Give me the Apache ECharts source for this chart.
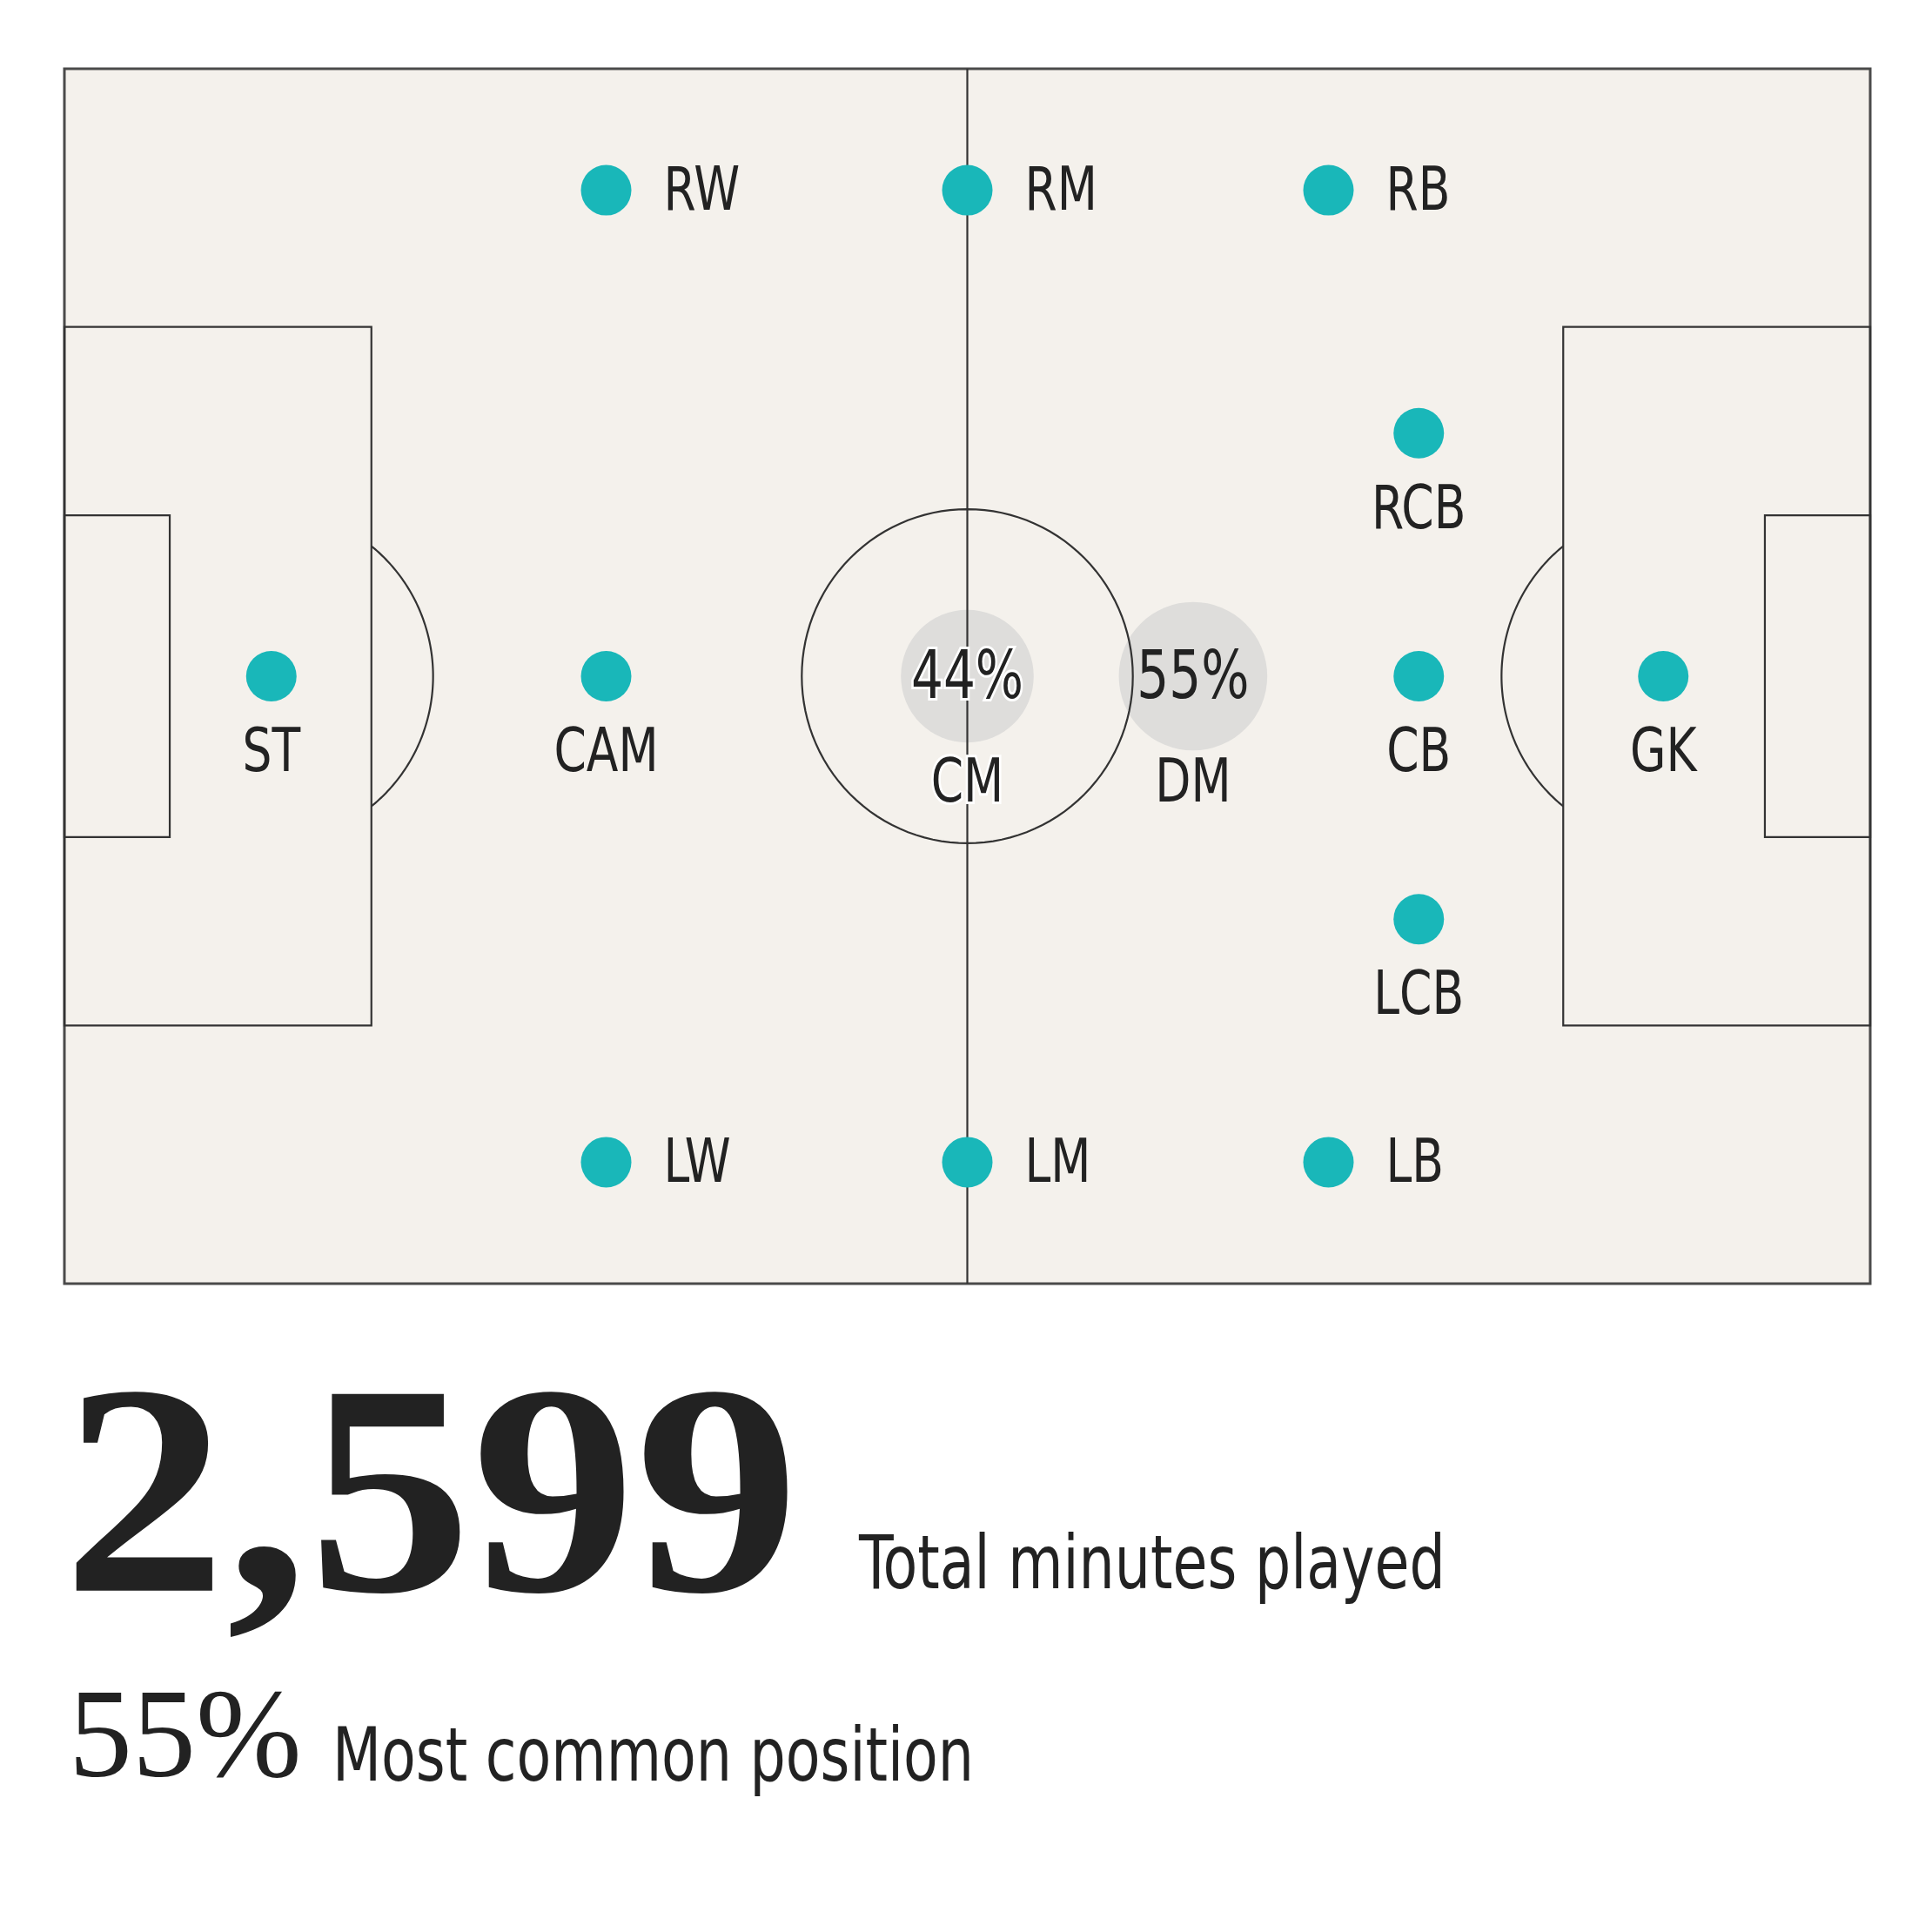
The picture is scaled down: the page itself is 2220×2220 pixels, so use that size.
<!DOCTYPE html>
<html>
<head>
<meta charset="utf-8">
<script src="https://cdn.jsdelivr.net/npm/echarts@6/dist/echarts.min.js"></script>
<style>
html, body { margin: 0; padding: 0; background: #fff; }
#chart { width: 2220px; height: 2220px; }
</style>
</head>
<body>
<div id="chart"></div>
<script>
// positions on a 120 x 80 pitch, y counted from the top touchline
var positions = ['RW', 'RM', 'RB', 'RCB', 'ST', 'CAM', 'CM', 'DM', 'CB', 'GK', 'LCB', 'LW', 'LM', 'LB'];
var posX = [36, 60, 84, 90, 13.75, 36, 60, 75, 90, 106.25, 90, 36, 60, 84];
var posY = [8, 8, 8, 24, 40, 40, 40, 40, 40, 40, 56, 72, 72, 72];

// share of minutes, only where shown
var shareNames = ['CM', 'DM'];
var shareValues = [44, 55];

// summary numbers
var totalMinutes = 2599;
var topShare = 55;
var totalText = 'Total minutes played';
var topText = 'Most common position';

// pitch markings (pitch units)
var pitchLines = [[60, 0, 60, 80]];
var pitchRects = [[0, 17, 20.4, 63], [0, 29.4, 7, 50.6], [99.6, 17, 120, 63], [113, 29.4, 120, 50.6]];
// cx, cy, r, clip edge, keep side
var pitchArcs = [[60, 40, 11, null, null], [13.5, 40, 11, 20.4, 'right'], [106.5, 40, 11, 99.6, 'left']];

var teal = '#19B7B9';
var ink = '#222222';
var labelFont = '"Liberation Sans Narrow", "DejaVu Sans Condensed", "DejaVu Sans", sans-serif';
var serifFont = '"Liberation Serif", "DejaVu Serif", serif';
var narrow = 0.85;

var chart = echarts.init(document.getElementById('chart'));

function shareOf(name) {
	var k = shareNames.indexOf(name);
	return k < 0 ? null : shareValues[k];
}

function renderPitch(params, api) {
	var st = { stroke: '#333333', lineWidth: 2.2, fill: null };
	var children = [];
	pitchLines.forEach(function (l) {
		var a = api.coord([l[0], l[1]]), b = api.coord([l[2], l[3]]);
		children.push({ type: 'line', shape: { x1: a[0], y1: a[1], x2: b[0], y2: b[1] }, style: st });
	});
	pitchRects.forEach(function (r) {
		var a = api.coord([r[0], r[1]]), b = api.coord([r[2], r[3]]);
		children.push({ type: 'rect', shape: { x: a[0], y: a[1], width: b[0] - a[0], height: b[1] - a[1] }, style: st });
	});
	pitchArcs.forEach(function (c) {
		var t0 = 0, t1 = 2 * Math.PI;
		if (c[3] !== null) {
			var a = Math.acos((c[3] - c[0]) / c[2]);
			if (c[4] === 'right') { t0 = -a; t1 = a; } else { t0 = a; t1 = 2 * Math.PI - a; }
		}
		var pts = [];
		for (var i = 0; i <= 120; i++) {
			var t = t0 + (t1 - t0) * i / 120;
			pts.push(api.coord([c[0] + c[2] * Math.cos(t), c[1] + c[2] * Math.sin(t)]));
		}
		children.push({ type: 'polyline', shape: { points: pts }, style: st });
	});
	return { type: 'group', children: children };
}

function textEl(str, x, y, size, align, halo) {
	var style = {
		text: str, font: size + 'px ' + labelFont,
		fill: ink, textFill: ink,
		align: align, verticalAlign: 'middle',
		textAlign: align, textVerticalAlign: 'middle'
	};
	if (halo) {
		style.stroke = '#ffffff'; style.textStroke = '#ffffff';
		style.lineWidth = 6; style.textStrokeWidth = 6;
	}
	return { type: 'text', x: x, y: y, scaleX: narrow, style: style };
}

// position names and shares
function renderLabels(params, api) {
	var i = api.value(2);
	var name = positions[i];
	var p = api.coord([api.value(0), api.value(1)]);
	var share = shareOf(name);
	var onLine = posX[i] === 60;
	var flank = posY[i] <= 10 || posY[i] >= 70;
	var kids = [];
	if (share !== null) {
		kids.push(textEl(share + '%', p[0], p[1] + 5, 76, 'center', onLine));
		kids.push(textEl(name, p[0], p[1] + 126, 70, 'center', onLine));
	} else if (flank) {
		kids.push(textEl(name, p[0] + 66, p[1] + 4, 70, 'left', false));
	} else {
		kids.push(textEl(name, p[0], p[1] + 91, 70, 'center', false));
	}
	return { type: 'group', children: kids };
}

var shareData = shareNames.map(function (n, i) {
	var k = positions.indexOf(n);
	return { name: n, value: [posX[k], posY[k], shareValues[i]] };
});

var dotData = [];
positions.forEach(function (n, i) {
	if (shareOf(n) === null) dotData.push({ name: n, value: [posX[i], posY[i]] });
});

var labelData = positions.map(function (n, i) { return [posX[i], posY[i], i]; });

var option = {
	animation: false,
	backgroundColor: '#ffffff',
	grid: {
		left: 74, top: 79, width: 2075, height: 1396,
		show: true, backgroundColor: '#F4F1EC', borderColor: '#4a4a4a', borderWidth: 3
	},
	xAxis: { type: 'value', min: 0, max: 120, show: false },
	yAxis: { type: 'value', min: 0, max: 80, inverse: true, show: false },
	series: [
		{
			// grey bubbles sized by share
			type: 'scatter', name: 'share', z: 1, silent: true,
			data: shareData,
			symbolSize: function (v) { return 23 * Math.sqrt(v[2]); },
			itemStyle: { color: '#DEDDDB', opacity: 1 }
		},
		{
			type: 'custom', name: 'pitch', z: 2, silent: true, clip: false,
			data: [[0, 0]],
			renderItem: renderPitch
		},
		{
			type: 'scatter', name: 'positions', z: 3, silent: true,
			data: dotData,
			symbolSize: 58,
			itemStyle: { color: teal, opacity: 1 }
		},
		{
			type: 'custom', name: 'labels', z: 4, silent: true, clip: false,
			data: labelData,
			encode: { x: 0, y: 1 },
			renderItem: renderLabels
		}
	],
	graphic: [
		{
			type: 'text', x: 72, y: 1566, scaleX: 1.09,
			style: { text: totalMinutes.toLocaleString('en-US'), fill: ink, font: 'bold 345px ' + serifFont }
		},
		{
			type: 'text', x: 987, y: 1760, scaleX: narrow,
			style: { text: totalText, fill: ink, font: '85px ' + labelFont }
		},
		{
			type: 'text', x: 79, y: 1930,
			style: { text: topShare + '%', fill: ink, font: '146px ' + serifFont }
		},
		{
			type: 'text', x: 382, y: 1981, scaleX: narrow,
			style: { text: topText, fill: ink, font: '85px ' + labelFont }
		}
	]
};

chart.setOption(option);
</script>
</body>
</html>
